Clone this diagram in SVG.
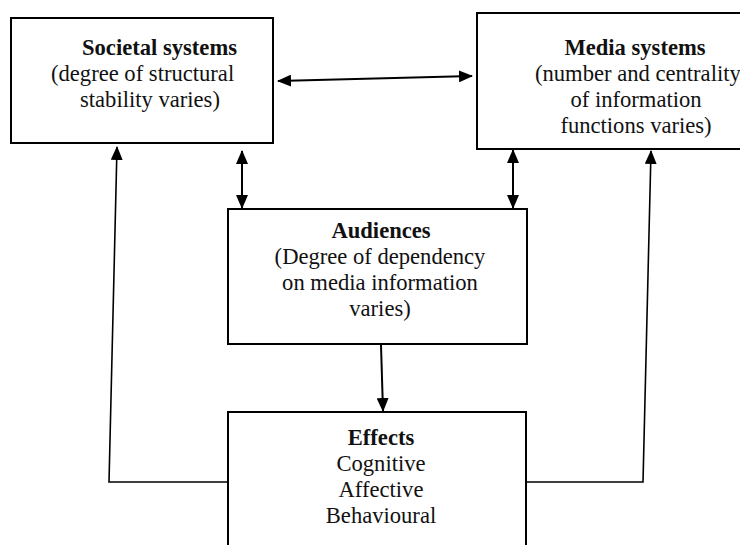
<svg xmlns="http://www.w3.org/2000/svg" width="740" height="545" viewBox="0 0 740 545">
<style>
.box{fill:#fff;stroke:#000;stroke-width:2}
text{font-family:'Liberation Serif','Times New Roman',Times,serif;font-size:22.6px;fill:#111}
.b{font-weight:bold}
.c{text-anchor:middle}
.ln{fill:none;stroke:#000;stroke-width:2}
.fb{fill:none;stroke:#000;stroke-width:1.6}
</style>
<defs>
<marker id="ah" markerUnits="userSpaceOnUse" markerWidth="14" markerHeight="12" refX="13" refY="6" orient="auto-start-reverse" viewBox="0 0 14 12">
<path d="M0,0 L14,6 L0,12 Z" fill="#000"/>
</marker>
</defs>
<rect width="740" height="545" fill="#fff"/>
<g id="connectors">
<line class="ln" x1="278" y1="81" x2="472" y2="76" marker-start="url(#ah)" marker-end="url(#ah)"/>
<line class="ln" x1="242" y1="151" x2="242" y2="208" marker-start="url(#ah)" marker-end="url(#ah)"/>
<line class="ln" x1="513" y1="150" x2="513" y2="208" marker-start="url(#ah)" marker-end="url(#ah)"/>
<line class="ln" x1="381" y1="345" x2="383" y2="411" marker-end="url(#ah)"/>
<polyline class="fb" points="228,482 109,482 117,147" marker-end="url(#ah)"/>
<polyline class="fb" points="526,482 643,482 651,151" marker-end="url(#ah)"/>
</g>
<g id="societal">
<rect class="box" x="11" y="18" width="262" height="125"/>
<text class="b" x="82" y="55">Societal systems</text>
<text x="51" y="81">(degree of structural</text>
<text x="80" y="107">stability varies)</text>
</g>
<g id="media">
<rect class="box" x="477" y="13" width="270" height="136"/>
<text class="b c" x="635" y="55">Media systems</text>
<text x="535" y="81">(number and centrality</text>
<text class="c" x="636" y="107">of information</text>
<text class="c" x="636" y="133">functions varies)</text>
</g>
<g id="audiences">
<rect class="box" x="228" y="209" width="299" height="135"/>
<text class="b c" x="381" y="238">Audiences</text>
<text class="c" x="380" y="264">(Degree of dependency</text>
<text class="c" x="380" y="290">on media information</text>
<text class="c" x="380" y="316">varies)</text>
</g>
<g id="effects">
<rect class="box" x="228" y="412" width="298" height="140"/>
<text class="b c" x="381" y="445">Effects</text>
<text class="c" x="381" y="471">Cognitive</text>
<text class="c" x="381" y="497">Affective</text>
<text class="c" x="381" y="523">Behavioural</text>
</g>
</svg>
